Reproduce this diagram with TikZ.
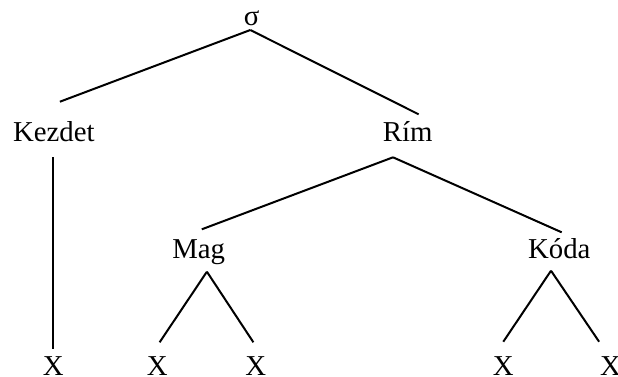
\documentclass[tikz,border=0pt]{standalone}
\usepackage{fontspec}
\setmainfont{Liberation Serif}
\usetikzlibrary{calc}
\begin{document}
\begin{tikzpicture}[x=1pt,y=-1pt,
  lbl/.style={anchor=base,inner sep=0pt,font=\fontsize{28.8}{30}\selectfont},
  edge/.style={line width=2pt,line cap=butt}]
\useasboundingbox (0,0) rectangle (618,376);
% labels, placed on their baselines
\node[lbl] (sigma) at (251.7,25.5) {σ};
\node[lbl] (kezdet) at (53.8,141.7) {Kezdet};
\node[lbl] (rim) at (407.8,141.7) {Rím};
\node[lbl] (mag) at (198.7,258.3) {Mag};
\node[lbl] (koda) at (559.3,258.3) {Kóda};
\node[lbl] (x1) at (53.3,375) {X};
\node[lbl] (x2) at (157.3,375) {X};
\node[lbl] (x3) at (255.8,375) {X};
\node[lbl] (x4) at (503.3,375) {X};
\node[lbl] (x5) at (610.5,375) {X};
% branches
\draw[edge] ($(sigma.base)+(-1.4,4.5)$) -- ($(kezdet.base)+(6.1,-40)$);
\draw[edge] ($(sigma.base)+(-1.4,4.5)$) -- ($(rim.base)+(10.8,-27.4)$);
\draw[edge] ($(x1.base)+(0,-217.7)$) -- ($(x1.base)+(0,-25.7)$);
\draw[edge] ($(rim.base)+(-14.8,15.6)$) -- ($(mag.base)+(3.1,-29)$);
\draw[edge] ($(rim.base)+(-14.8,15.6)$) -- ($(koda.base)+(2.4,-26)$);
\draw[edge] ($(mag.base)+(8.2,13.4)$) -- ($(x2.base)+(2.3,-32.7)$);
\draw[edge] ($(mag.base)+(8.2,13.4)$) -- ($(x3.base)+(-2.4,-32.7)$);
\draw[edge] ($(koda.base)+(-8.3,12.4)$) -- ($(x4.base)+(0,-33.3)$);
\draw[edge] ($(koda.base)+(-8.3,12.4)$) -- ($(x5.base)+(-11.4,-33.3)$);
\end{tikzpicture}
\end{document}
